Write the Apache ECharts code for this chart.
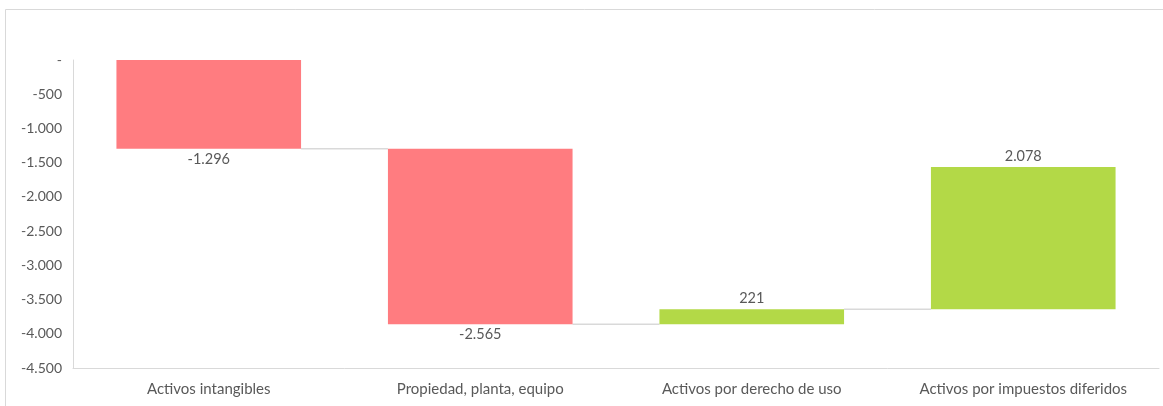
<!DOCTYPE html>
<html>
<head>
<meta charset="utf-8">
<script src="https://cdn.jsdelivr.net/npm/echarts@6/dist/echarts.min.js"></script>
<style>
html,body{margin:0;padding:0;background:#fff;}
#c{width:1163px;height:406px;}
</style>
</head>
<body>
<div id="c"></div>
<script>
const categories = ['Activos intangibles', 'Propiedad, planta, equipo', 'Activos por derecho de uso', 'Activos por impuestos diferidos'];
const deltas = [-1296, -2565, 221, 2078];
const yTicks = { min: -4500, max: 0, interval: 500 };

const RED = '#FF7C80';
const GREEN = '#B3D947';
const TXT = '#595959';
const FONT = 'Lato';

function fmt(v) {
  if (v === 0) return '-';
  const s = Math.abs(v).toString().replace(/\B(?=(\d{3})+(?!\d))/g, '.');
  return (v < 0 ? '-' : '') + s;
}

// cumulative levels
const starts = [], ends = [];
let acc = 0;
deltas.forEach(d => { starts.push(acc); acc += d; ends.push(acc); });

// stacked (all in negative territory): base = upper edge, visible = -|delta|
const baseData = deltas.map((d, i) => Math.max(starts[i], ends[i]));
const showData = deltas.map((d, i) => ({
  value: -Math.abs(d),
  itemStyle: { color: d < 0 ? RED : GREEN },
  label: {
    show: true,
    position: d < 0 ? 'bottom' : 'top',
    formatter: fmt(d),
    color: TXT, fontFamily: FONT, fontSize: 14.5, distance: 3
  }
}));

const chart = echarts.init(document.getElementById('c'), null, { renderer: 'canvas' });
chart.setOption({
  animation: false,
  backgroundColor: '#fff',
  graphic: [{
    type: 'rect', silent: true, z: -10,
    shape: { x: 5.5, y: 9.5, width: 1200, height: 500 },
    style: { fill: 'none', stroke: '#d9d9d9', lineWidth: 1 }
  }],
  grid: { left: 73, right: 4, top: 60, bottom: 38, containLabel: false },
  xAxis: {
    type: 'category', data: categories,
    axisLine: { onZero: false, lineStyle: { color: '#d9d9d9' } },
    axisTick: { show: false },
    axisLabel: { color: TXT, fontFamily: FONT, fontSize: 15, margin: 14 }
  },
  yAxis: {
    type: 'value', min: yTicks.min, max: yTicks.max, interval: yTicks.interval,
    axisLine: { show: true, lineStyle: { color: '#d9d9d9' } },
    axisTick: { show: false },
    splitLine: { show: false },
    axisLabel: { color: TXT, fontFamily: FONT, fontSize: 14, margin: 11, formatter: fmt }
  },
  series: [
    {
      type: 'custom', z: 1, silent: true,
      data: deltas.slice(0, -1).map((d, i) => [i, ends[i]]),
      renderItem: function (params, api) {
        const i = api.value(0);
        const lvl = api.value(1);
        const bw = api.size([1, 0])[0] * 0.68;
        const p1 = api.coord([i, lvl]);
        const p2 = api.coord([i + 1, lvl]);
        return {
          type: 'line',
          shape: { x1: p1[0] + bw / 2, y1: p1[1], x2: p2[0] - bw / 2, y2: p2[1] },
          style: { stroke: '#d9d9d9', lineWidth: 1.5 }
        };
      }
    },
    {
      type: 'bar', stack: 'w', barWidth: '68%', z: 2,
      itemStyle: { color: 'transparent' },
      data: baseData, silent: true
    },
    {
      type: 'bar', stack: 'w', barWidth: '68%', z: 2,
      data: showData
    }
  ]
});
</script>
</body>
</html>
